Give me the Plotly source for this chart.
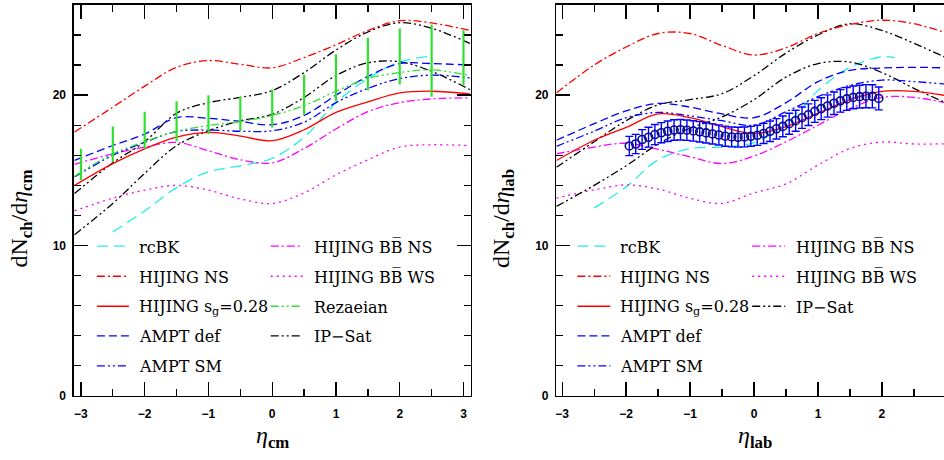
import plotly.graph_objects as go

# ---------------- data: left panel (eta_cm) ----------------
grid_cm = [-3.1, -2.5, -2.0, -1.5, -1.0, -0.5, 0.0, 0.5, 1.0, 1.5, 2.0, 2.5, 3.1]

rcbk_cm_x = [-2.5, -2.0, -1.5, -1.0, -0.5, 0.0, 0.5, 1.0, 1.5, 2.0, 2.5]
rcbk_cm_y = [10.9, 12.3, 13.85, 14.9, 15.3, 15.8, 17.2, 19.5, 21.1, 22.2, 22.6]
hijing_ns_cm = [17.55, 19.2, 20.6, 21.85, 22.3, 22.05, 21.82, 22.5, 23.35, 24.3, 24.95, 24.8, 24.3]
hijing_sg_cm = [14.0, 15.45, 16.43, 17.2, 17.52, 17.28, 16.97, 17.7, 18.85, 19.55, 20.15, 20.26, 20.09]
ampt_def_cm = [15.66, 16.65, 17.41, 18.5, 18.46, 18.25, 18.03, 18.65, 20.0, 21.25, 22.1, 22.1, 22.0]
ampt_sm_cm = [14.56, 16.0, 16.86, 17.58, 17.68, 17.6, 17.63, 18.2, 19.5, 20.45, 21.1, 21.33, 21.15]
bb_ns_cm = [15.4, 16.1, 16.55, 16.86, 16.3, 15.7, 15.5, 16.45, 17.75, 18.9, 19.5, 19.75, 19.82]
bb_ws_cm = [12.3, 13.15, 13.68, 14.0, 13.68, 13.1, 12.8, 13.5, 14.7, 15.7, 16.55, 16.7, 16.64]
rezaeian_cm = [14.6, 16.1, 16.9, 17.6, 17.98, 18.25, 18.65, 19.3, 20.26, 21.1, 21.5, 21.68, 21.3]
ipsat_a_cm = [13.46, 15.5, 16.9, 18.8, 19.5, 19.85, 20.3, 21.5, 23.0, 24.2, 24.82, 24.45, 23.44]
ipsat_b_cm = [10.72, 12.8, 14.8, 16.64, 17.63, 18.29, 18.73, 19.85, 21.3, 22.15, 22.22, 21.58, 20.37]

rez_bar_x = [-3.0, -2.5, -2.0, -1.5, -1.0, -0.5, 0.0, 0.5, 1.0, 1.5, 2.0, 2.5, 3.0]
rez_bar_lo = [14.34, 15.55, 16.43, 16.93, 17.41, 17.63, 17.85, 18.68, 19.6, 20.31, 20.7, 19.89, 20.66]
rez_bar_hi = [16.43, 17.92, 18.9, 19.6, 20.0, 19.87, 20.37, 21.36, 22.72, 23.82, 24.43, 24.69, 24.32]

# ---------------- data: right panel (eta_lab) ----------------
grid_lab = [-3.09, -2.5, -2.0, -1.5, -1.0, -0.5, 0.0, 0.5, 1.0, 1.5, 2.0, 2.5, 3.1]

rcbk_lab_x = [-2.5, -2.0, -1.5, -1.0, -0.5, 0.0, 0.5, 1.0, 1.5, 2.0, 2.2]
rcbk_lab_y = [12.5, 13.9, 15.7, 16.45, 16.55, 16.85, 18.1, 20.3, 21.85, 22.55, 22.5]
hijing_ns_lab = [20.15, 22.0, 23.2, 24.1, 24.1, 23.3, 22.67, 23.15, 24.1, 24.7, 24.98, 24.75, 24.0]
hijing_sg_lab = [15.65, 17.0, 17.85, 18.75, 18.5, 17.9, 17.45, 17.9, 18.8, 19.7, 20.25, 20.25, 19.9]
ampt_def_lab = [17.0, 18.1, 18.95, 19.45, 19.2, 18.75, 18.5, 19.5, 20.9, 21.65, 21.8, 21.85, 21.8]
ampt_sm_lab = [16.6, 17.6, 18.5, 18.85, 18.62, 18.3, 18.0, 18.9, 19.9, 20.65, 21.0, 20.9, 20.7]
bb_ns_lab = [16.1, 16.55, 16.8, 16.4, 15.9, 15.45, 15.95, 16.9, 18.0, 19.1, 19.85, 19.85, 19.4]
bb_ws_lab = [13.15, 13.7, 14.03, 13.75, 13.14, 12.8, 13.5, 14.1, 15.35, 16.45, 16.88, 16.75, 16.78]
ipsat_a_lab = [15.2, 16.9, 18.3, 19.35, 19.7, 20.1, 21.3, 22.8, 24.0, 24.75, 24.3, 23.45, 22.3]
ipsat_b_lab = [12.6, 14.0, 15.3, 16.75, 17.8, 18.55, 19.7, 21.2, 22.1, 22.2, 21.5, 20.45, 19.3]

alice_x = [-1.95, -1.85, -1.75, -1.65, -1.55, -1.45, -1.35, -1.25, -1.15, -1.05,
           -0.95, -0.85, -0.75, -0.65, -0.55, -0.45, -0.35, -0.25, -0.15, -0.05,
           0.05, 0.15, 0.25, 0.35, 0.45, 0.55, 0.65, 0.75, 0.85, 0.95,
           1.05, 1.15, 1.25, 1.35, 1.45, 1.55, 1.65, 1.75, 1.85, 1.95]
alice_y = [16.62, 16.75, 17.05, 17.2, 17.38, 17.5, 17.6, 17.68, 17.7, 17.67,
           17.62, 17.56, 17.49, 17.42, 17.35, 17.27, 17.22, 17.2, 17.22, 17.26,
           17.33, 17.45, 17.6, 17.76, 17.92, 18.1, 18.3, 18.5, 18.7, 18.92,
           19.1, 19.28, 19.46, 19.62, 19.75, 19.85, 19.9, 19.93, 19.92, 19.78]
alice_err = [0.64, 0.64, 0.66, 0.66, 0.67, 0.67, 0.68, 0.68, 0.68, 0.68,
             0.68, 0.68, 0.67, 0.67, 0.67, 0.67, 0.66, 0.66, 0.66, 0.66,
             0.67, 0.67, 0.68, 0.68, 0.69, 0.7, 0.7, 0.71, 0.72, 0.73,
             0.73, 0.74, 0.75, 0.75, 0.76, 0.76, 0.76, 0.77, 0.77, 0.76]

# legend labels
lab_rcbk = "rcBK"
lab_hns = "HIJING NS"
lab_hsg = "HIJING s<sub>g</sub>=0.28"
lab_adef = "AMPT def"
lab_asm = "AMPT SM"
lab_bbns = "HIJING BB\u0305 NS"
lab_bbws = "HIJING BB\u0305 WS"
lab_rez = "Rezaeian"
lab_ips = "IP\u2212Sat"

# ---------------- styles ----------------
CYAN, RED, BLUE, MAG, GREEN, BLACK = "#22eeee", "#ff0000", "#0000ff", "#ff00ff", "#2fe02f", "#000000"
D_LONG = "11px,6px"
D_DASH = "8px,4px"
D_DOT = "2px,4px"
D_DD = "8px,3px,2px,3px"
D_DDD = "8px,3px,2px,3px,2px,3px"

styles = {
    "rcbk": (CYAN, D_LONG),
    "hns": (RED, D_DD),
    "hsg": (RED, "solid"),
    "adef": (BLUE, D_DASH),
    "asm": (BLUE, D_DDD),
    "bbns": (MAG, D_DD),
    "bbws": (MAG, D_DOT),
    "rez": (GREEN, D_DDD),
    "ips": (BLACK, D_DDD),
}

W, H = 944, 460
fig = go.Figure()


def add_line(x, y, key, xa, ya, name):
    c, d = styles[key]
    fig.add_trace(go.Scatter(x=x, y=y, mode="lines", name=name, showlegend=False,
                             line=dict(color=c, dash=d, width=1.3, shape="spline", smoothing=1.0),
                             xaxis=xa, yaxis=ya, hoverinfo="skip"))


# left panel
add_line(rcbk_cm_x, rcbk_cm_y, "rcbk", "x", "y", lab_rcbk)
add_line(grid_cm, bb_ws_cm, "bbws", "x", "y", lab_bbws)
add_line(grid_cm, bb_ns_cm, "bbns", "x", "y", lab_bbns)
add_line(grid_cm, ipsat_a_cm, "ips", "x", "y", lab_ips)
add_line(grid_cm, ipsat_b_cm, "ips", "x", "y", lab_ips)
add_line(grid_cm, ampt_def_cm, "adef", "x", "y", lab_adef)
add_line(grid_cm, ampt_sm_cm, "asm", "x", "y", lab_asm)
add_line(grid_cm, rezaeian_cm, "rez", "x", "y", lab_rez)
add_line(grid_cm, hijing_ns_cm, "hns", "x", "y", lab_hns)
add_line(grid_cm, hijing_sg_cm, "hsg", "x", "y", lab_hsg)

rez_mid = [(a + b) / 2 for a, b in zip(rez_bar_lo, rez_bar_hi)]
rez_half = [(b - a) / 2 for a, b in zip(rez_bar_lo, rez_bar_hi)]
fig.add_trace(go.Scatter(x=rez_bar_x, y=rez_mid, mode="markers", showlegend=False,
                         marker=dict(size=1, color="rgba(0,0,0,0)"),
                         error_y=dict(type="data", array=rez_half, symmetric=True,
                                      width=0, thickness=2.2, color=GREEN),
                         xaxis="x", yaxis="y", hoverinfo="skip"))

# right panel
add_line(rcbk_lab_x, rcbk_lab_y, "rcbk", "x2", "y2", lab_rcbk)
add_line(grid_lab, bb_ws_lab, "bbws", "x2", "y2", lab_bbws)
add_line(grid_lab, bb_ns_lab, "bbns", "x2", "y2", lab_bbns)
add_line(grid_lab, ipsat_a_lab, "ips", "x2", "y2", lab_ips)
add_line(grid_lab, ipsat_b_lab, "ips", "x2", "y2", lab_ips)
add_line(grid_lab, ampt_def_lab, "adef", "x2", "y2", lab_adef)
add_line(grid_lab, ampt_sm_lab, "asm", "x2", "y2", lab_asm)
add_line(grid_lab, hijing_ns_lab, "hns", "x2", "y2", lab_hns)
add_line(grid_lab, hijing_sg_lab, "hsg", "x2", "y2", lab_hsg)

fig.add_trace(go.Scatter(x=alice_x, y=alice_y, mode="markers", showlegend=False,
                         marker=dict(symbol="circle-open", size=8, color="#0a0a90",
                                     line=dict(width=1.6, color="#0a0a90")),
                         error_y=dict(type="data", array=alice_err, symmetric=True,
                                      width=4, thickness=1.4, color=BLUE),
                         xaxis="x2", yaxis="y2", hoverinfo="skip"))


def px_x(p):
    return p / W


def px_y(p):
    return 1 - p / H


tickfont = dict(family="Liberation Sans", size=12, color="black", weight="bold")
common_axis = dict(showline=True, linecolor="black", linewidth=1.5, ticks="inside",
                   ticklen=14, tickwidth=1.3, tickcolor="black", showgrid=False,
                   zeroline=False, tickfont=tickfont)

ydom = [px_y(402), px_y(5)]
fig.update_layout(
    width=W, height=H, autosize=False,
    margin=dict(l=0, r=0, t=0, b=0),
    paper_bgcolor="white", plot_bgcolor="white",
    showlegend=False,
    xaxis=dict(domain=[px_x(73), px_x(470)], range=[-3.11, 3.11], dtick=1, tick0=0,
               mirror="ticks", anchor="y", ticklabelstandoff=6,
               minor=dict(dtick=0.5, tick0=0, ticks="inside", ticklen=7, tickwidth=1.3,
                          tickcolor="black", showgrid=False),
               **common_axis),
    yaxis=dict(domain=ydom, range=[0, 26], dtick=10, tick0=0, mirror="ticks",
               anchor="x", ticklabelstandoff=4,
               minor=dict(dtick=2, tick0=0, ticks="inside", ticklen=7, tickwidth=1.3,
                          tickcolor="black", showgrid=False),
               **common_axis),
    xaxis2=dict(domain=[px_x(556), 1.0], range=[-3.09, 2.97], dtick=1, tick0=0,
                mirror="ticks", anchor="y2", ticklabelstandoff=6,
                minor=dict(dtick=0.5, tick0=0, ticks="inside", ticklen=7, tickwidth=1.3,
                           tickcolor="black", showgrid=False),
                **common_axis),
    yaxis2=dict(domain=ydom, range=[0, 26], dtick=10, tick0=0, mirror=False,
                anchor="x2", ticklabelstandoff=4,
                minor=dict(dtick=2, tick0=0, ticks="inside", ticklen=7, tickwidth=1.3,
                           tickcolor="black", showgrid=False),
                **common_axis),
)

ann = []
shapes = []
TITLE_FONT = dict(family="Liberation Serif", size=24, color="black")
ann.append(dict(x=px_x(20), y=px_y(222), xref="paper", yref="paper", showarrow=False,
                xanchor="center", yanchor="middle", textangle=-90, font=TITLE_FONT,
                text="dN<sub><b>ch</b></sub>/d<i>\u03b7</i><sub><b>cm</b></sub>"))
ann.append(dict(x=px_x(502), y=px_y(222), xref="paper", yref="paper", showarrow=False,
                xanchor="center", yanchor="middle", textangle=-90, font=TITLE_FONT,
                text="dN<sub><b>ch</b></sub>/d<i>\u03b7</i><sub><b>lab</b></sub>"))
ann.append(dict(x=px_x(272), y=px_y(444), xref="paper", yref="paper", showarrow=False,
                xanchor="center", yanchor="middle",
                font=TITLE_FONT, text="<i>\u03b7</i><sub><b>cm</b></sub>"))
ann.append(dict(x=px_x(755), y=px_y(444), xref="paper", yref="paper", showarrow=False,
                xanchor="center", yanchor="middle",
                font=TITLE_FONT, text="<i>\u03b7</i><sub><b>lab</b></sub>"))

LEG_FONT = dict(family="DejaVu Serif", size=16, color="black")
rows = [250, 280.5, 311, 341, 371.5]


def legend_col(entries, x0, x1, xt):
    for (key, label), yy in zip(entries, rows):
        c, d = styles[key]
        shapes.append(dict(type="line", xref="paper", yref="paper",
                           x0=px_x(x0), x1=px_x(x1), y0=px_y(yy), y1=px_y(yy),
                           line=dict(color=c, dash=d, width=1.3)))
        ann.append(dict(x=px_x(xt), y=px_y(yy + 1), xref="paper", yref="paper",
                        xanchor="left", yanchor="middle", showarrow=False,
                        font=LEG_FONT, text=label))


col1 = [("rcbk", lab_rcbk), ("hns", lab_hns), ("hsg", lab_hsg), ("adef", lab_adef), ("asm", lab_asm)]
legend_col(col1, 96, 128, 136)
legend_col([("bbns", lab_bbns), ("bbws", lab_bbws), ("rez", lab_rez), ("ips", lab_ips)], 270, 302, 311)
legend_col(col1, 577, 610, 618)
legend_col([("bbns", lab_bbns), ("bbws", lab_bbws), ("ips", lab_ips)], 752, 785, 794)

fig.update_layout(annotations=ann, shapes=shapes)
fig.write_html("out.html", config={"displayModeBar": False, "staticPlot": True},
               post_script="document.body.style.margin='0';document.body.style.overflow='hidden';")
